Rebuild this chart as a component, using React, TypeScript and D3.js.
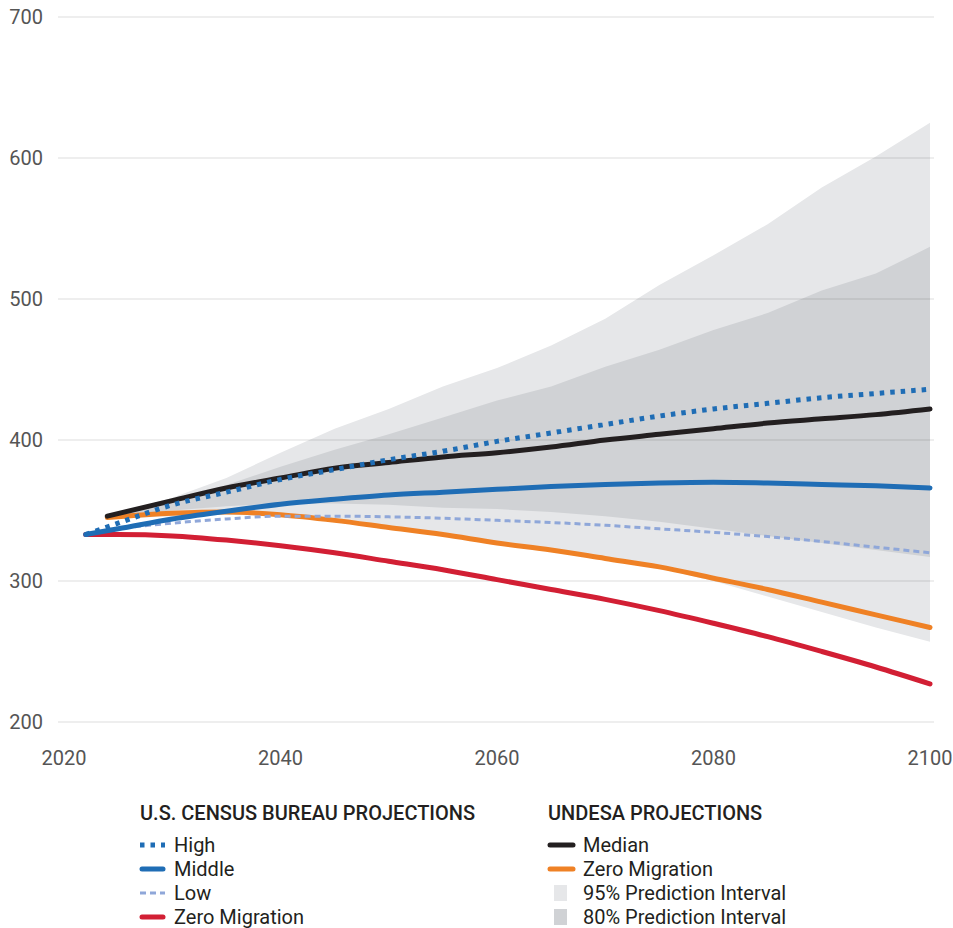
import React from 'react';
import * as d3 from 'd3';

// UNDESA projections (millions)
const unYears = [2024, 2030, 2035, 2040, 2045, 2050, 2055, 2060, 2065, 2070, 2075, 2080, 2085, 2090, 2095, 2100];
const unMedian = [346, 357, 366, 373, 380, 384, 388, 391, 395, 400, 404, 408, 412, 415, 418, 422];
const unZeroMig = [345, 348, 349, 347, 343, 338, 333, 327, 322, 316, 310, 302, 294, 285, 276, 267];
const pi95Upper = [346, 359, 373, 391, 408, 422, 438, 451, 467, 486, 510, 531, 553, 579, 601, 625];
const pi95Lower = [344, 346, 347, 346, 343, 339, 333, 327, 321, 315, 309, 300, 289, 278, 267, 257];
const pi80Upper = [346, 357, 368, 381, 393, 404, 416, 428, 438, 452, 464, 478, 490, 506, 518, 537];
const pi80Lower = [345, 350, 353, 355, 355, 354, 352, 351, 349, 346, 342, 337, 332, 327, 322, 317];

// U.S. Census Bureau projections (millions)
const censusYears = [2022, 2025, 2030, 2035, 2040, 2045, 2050, 2055, 2060, 2065, 2070, 2075, 2080, 2085, 2090, 2095, 2100];
const censusHigh = [333, 341, 354, 363, 372, 379, 386, 392, 399, 405, 411, 417, 422, 426, 430, 433, 436];
const censusMiddle = [333, 337, 344, 349.5, 354.5, 358, 361, 363, 365, 367, 368.5, 369.5, 370, 369.5, 368.5, 367.5, 366];
const censusLow = [333, 337, 341, 344, 346, 346, 345.5, 344.5, 343, 341.5, 339.5, 337, 334.5, 331.5, 328, 324, 320];
const censusZeroMig = [333, 333, 332, 329, 325, 320, 314, 308, 301, 294, 287, 279, 270, 260.5, 250, 239, 227];

const yTicks = [200, 300, 400, 500, 600, 700];
const xTicks = [2020, 2040, 2060, 2080, 2100];

const FONT = 'Roboto, "Noto Sans", sans-serif';

const App: React.FC = () => {
  const width = 953;
  const height = 928;

  const x = d3.scaleLinear().domain([2020, 2100]).range([64, 930]);
  const y = d3.scaleLinear().domain([200, 700]).range([722, 17]);

  const band = (lo: number[], hi: number[]) =>
    d3.area<number>()
      .x((_d, i) => x(unYears[i]))
      .y0((_d, i) => y(lo[i]))
      .y1((_d, i) => y(hi[i]))
      .curve(d3.curveLinear)(unYears) || '';

  const unLine = (vals: number[]) =>
    d3.line<number>()
      .x((_d, i) => x(unYears[i]))
      .y((d) => y(d))
      .curve(d3.curveMonotoneX)(vals) || '';

  const censusLine = (vals: number[]) =>
    d3.line<number>()
      .x((_d, i) => x(censusYears[i]))
      .y((d) => y(d))
      .curve(d3.curveMonotoneX)(vals) || '';

  const leftLegend = [
    { label: 'High', color: '#1f6db5', dash: '4.5 6', w: 5 },
    { label: 'Middle', color: '#1f6db5', dash: '', w: 5 },
    { label: 'Low', color: '#8fa7d9', dash: '6 4', w: 3 },
    { label: 'Zero Migration', color: '#d21f34', dash: '', w: 5 },
  ];
  const rightLegend = [
    { label: 'Median', color: '#231f20', kind: 'line' },
    { label: 'Zero Migration', color: '#ef8125', kind: 'line' },
    { label: '95% Prediction Interval', color: '#e6e7e9', kind: 'box' },
    { label: '80% Prediction Interval', color: '#d0d2d5', kind: 'box' },
  ];

  return (
    <div style={{ position: 'absolute', left: 0, top: 0 }}>
      <svg width={width} height={height} style={{ display: 'block', background: '#fff' }}>
        {/* prediction intervals */}
        <path d={band(pi95Lower, pi95Upper)} fill="#e6e7e9" />
        <path d={band(pi80Lower, pi80Upper)} fill="#d0d2d5" />

        {/* grid */}
        {yTicks.map((t) => (
          <g key={t}>
            <line x1={58} x2={934} y1={y(t)} y2={y(t)} stroke="rgba(0,0,0,0.09)" strokeWidth={1.5} />
            <text x={43} y={y(t)} dy="0.35em" textAnchor="end" fontFamily={FONT} fontSize={20} fill="#555">
              {t}
            </text>
          </g>
        ))}
        {xTicks.map((t) => (
          <text key={t} x={x(t)} y={765} textAnchor="middle" fontFamily={FONT} fontSize={20} fill="#555">
            {t}
          </text>
        ))}

        {/* lines */}
        <path d={unLine(unZeroMig)} fill="none" stroke="#ef8125" strokeWidth={5} strokeLinecap="round" />
        <path d={censusLine(censusZeroMig)} fill="none" stroke="#d21f34" strokeWidth={5} strokeLinecap="round" />
        <path d={censusLine(censusLow)} fill="none" stroke="#8fa7d9" strokeWidth={3} strokeDasharray="6 4" />
        <path d={censusLine(censusMiddle)} fill="none" stroke="#1f6db5" strokeWidth={5} strokeLinecap="round" />
        <path d={unLine(unMedian)} fill="none" stroke="#231f20" strokeWidth={5} strokeLinecap="round" />
        <path d={censusLine(censusHigh)} fill="none" stroke="#1f6db5" strokeWidth={5} strokeDasharray="4.5 6" />

        {/* legend */}
        <g fontFamily={FONT}>
          <text x={140} y={820} fontSize={20} fontWeight={500} fill="#231f20">U.S. CENSUS BUREAU PROJECTIONS</text>
          {leftLegend.map((d, i) => (
            <g key={d.label} transform={`translate(140,${845 + i * 24})`}>
              <line x1={d.dash ? 0 : 2} x2={d.dash ? 25 : 23} y1={0} y2={0} stroke={d.color} strokeWidth={d.w}
                strokeDasharray={d.dash || undefined} strokeLinecap={d.dash ? 'butt' : 'round'} />
              <text x={34} y={0} dy="0.35em" fontSize={20} fill="#231f20">{d.label}</text>
            </g>
          ))}
          <text x={548} y={820} fontSize={20} fontWeight={500} fill="#231f20">UNDESA PROJECTIONS</text>
          {rightLegend.map((d, i) => (
            <g key={d.label} transform={`translate(548,${845 + i * 24})`}>
              {d.kind === 'line' ? (
                <line x1={2} x2={25} y1={0} y2={0} stroke={d.color} strokeWidth={5} strokeLinecap="round" />
              ) : (
                <rect x={6} y={-8} width={13} height={16} fill={d.color} />
              )}
              <text x={35} y={0} dy="0.35em" fontSize={20} fill="#231f20">{d.label}</text>
            </g>
          ))}
        </g>
      </svg>
    </div>
  );
};

export default App;
